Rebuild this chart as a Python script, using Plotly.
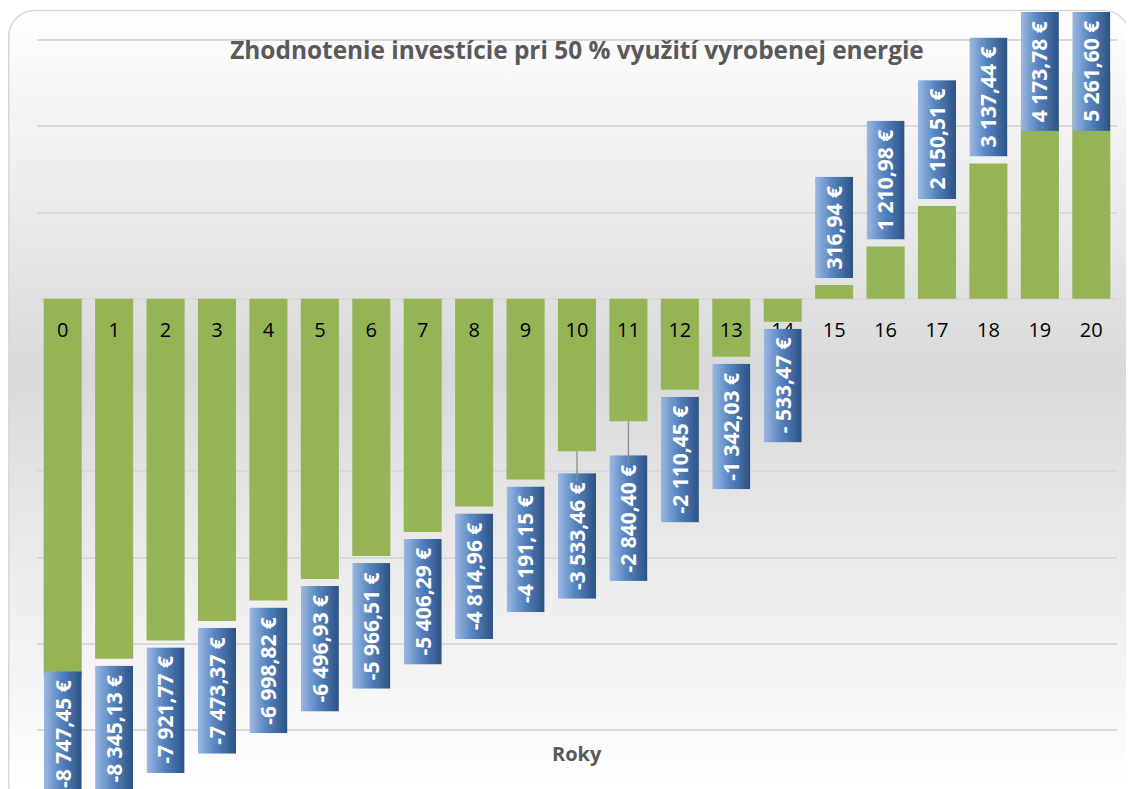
import plotly.graph_objects as go
import base64

# ---------------- data ----------------
years = list(range(21))
values = [-8747.45, -8345.13, -7921.77, -7473.37, -6998.82, -6496.93, -5966.51,
          -5406.29, -4814.96, -4191.15, -3533.46, -2840.40, -2110.45, -1342.03,
          -533.47, 316.94, 1210.98, 2150.51, 3137.44, 4173.78, 5261.60]
title_text = "Zhodnotenie investície pri 50 % využití vyrobenej energie"
x_title = "Roky"
y_min, y_max, y_step = -10000, 6000, 2000
# labels moved away from their bar (pixel gap) with a leader line
leader_gap = {10: 22, 11: 34}
# labels that Excel pushed inside the chart area (top / bottom)
pinned_top = [19, 20]
pinned_bottom = [0]


def fmt_eur(v):
    a = abs(v)
    whole = int(a)
    cents = int(round((a - whole) * 100))
    s = f"{whole:,}".replace(",", " ") + f",{cents:02d} €"
    if v < 0:
        return ("- " if a < 1000 else "-") + s
    return s


# approx. Open Sans Bold advance widths (em)
GLYPH_W = {"-": 0.322, " ": 0.26, ",": 0.28, "€": 0.572}


def text_width(s, size):
    return sum(GLYPH_W.get(c, 0.572) for c in s) * size


W, H = 1126, 781          # page has an 8px body margin
EXT = 2                   # extra px so the edge gridlines are drawn
ml, mr, mt, mb = 29, 17, 32 - EXT, 59 - EXT
pw, ph = W - ml - mr, H - mt - mb
u = (y_max - y_min) / (ph - 2 * EXT)   # data units per pixel
r0, r1 = y_min - EXT * u, y_max + EXT * u
x0, x1 = -0.5, len(years) - 0.5
BAR_W = 0.74
LABEL_SIZE = 21
LABEL_PAD = 9
GAP = 7


def px(xv):
    return (xv - x0) / (x1 - x0)


def py(yv):
    return (yv - r0) / (r1 - r0)


def svg_uri(svg):
    return "data:image/svg+xml;base64," + base64.b64encode(svg.encode("utf-8")).decode()


card_svg = f'''<svg xmlns="http://www.w3.org/2000/svg" width="{W}" height="{H + 30}" viewBox="0 0 {W} {H + 30}">
<defs><linearGradient id="g" x1="0" y1="0" x2="0" y2="1">
<stop offset="0" stop-color="#ffffff"/>
<stop offset="0.45" stop-color="#d9d9d9"/>
<stop offset="0.97" stop-color="#ffffff"/>
</linearGradient></defs>
<rect x="0.75" y="2.5" width="{W - 5}" height="{H + 20}" rx="26" ry="26" fill="url(#g)" stroke="#d9d9d9" stroke-width="1.5"/>
</svg>'''

box_svg = '''<svg xmlns="http://www.w3.org/2000/svg" width="40" height="100" viewBox="0 0 40 100" preserveAspectRatio="none">
<defs><linearGradient id="b" x1="0" y1="0" x2="1" y2="0">
<stop offset="0" stop-color="#9bb9e1"/>
<stop offset="0.45" stop-color="#5784c1"/>
<stop offset="1" stop-color="#2b5283"/>
</linearGradient></defs>
<rect x="0" y="0" width="40" height="100" fill="url(#b)"/>
</svg>'''
box_src = svg_uri(box_svg)

fig = go.Figure()
fig.add_trace(go.Bar(
    x=years, y=values,
    marker=dict(color="#94b455", line=dict(width=0)),
    width=BAR_W,
    hoverinfo="x+y",
))

annotations = []
images = [dict(
    source=svg_uri(card_svg), xref="paper", yref="paper",
    x=-ml / pw, y=1 + mt / ph, sizex=W / pw, sizey=(H + 30) / ph,
    xanchor="left", yanchor="top", sizing="stretch", layer="below",
)]

for i, v in zip(years, values):
    label = fmt_eur(v)
    L = text_width(label, LABEL_SIZE) + 2 * LABEL_PAD   # box length in px
    ann = dict(
        x=px(i), xref="paper", yref="paper",
        text=f"<b>{label}</b>", textangle=-90,
        font=dict(family="Open Sans", size=LABEL_SIZE, color="white"),
        xanchor="center", yanchor="middle", borderpad=0,
    )
    if i in pinned_top:
        yc = y_max + (28 - L / 2) * u
        ann.update(y=py(yc), showarrow=False)
    elif i in pinned_bottom:
        yc = y_min - (67 - L / 2) * u
        ann.update(y=py(yc), showarrow=False)
    elif i in leader_gap:
        g = leader_gap[i]
        yc = v - (g + L / 2) * u
        ann.update(y=py(v), showarrow=True, arrowhead=0, arrowwidth=1.3,
                   arrowcolor="#8c8c8c", ax=0, ay=g + L / 2)
    elif v < 0:
        yc = v - (GAP + L / 2) * u
        ann.update(y=py(yc), showarrow=False)
    else:
        yc = v + (GAP + L / 2) * u
        ann.update(y=py(yc), showarrow=False)
    images.append(dict(
        source=box_src, xref="paper", yref="paper", x=px(i), y=py(yc),
        sizex=BAR_W / (x1 - x0), sizey=L * u / (r1 - r0),
        xanchor="center", yanchor="middle", sizing="stretch", layer="above",
    ))
    annotations.append(ann)

annotations.append(dict(
    text=f"<b>{x_title}</b>", xref="paper", yref="paper", x=0.5, y=py(y_min),
    yanchor="top", yshift=-8, showarrow=False,
    font=dict(family="Open Sans", size=20, color="#595959"),
))

fig.update_layout(
    width=W, height=H,
    margin=dict(l=ml, r=mr, t=mt, b=mb, pad=0),
    paper_bgcolor="white", plot_bgcolor="rgba(0,0,0,0)",
    showlegend=False,
    title=dict(text=f"<b>{title_text}</b>", x=(ml + pw / 2) / W, xanchor="center",
               y=1 - 42 / H, yanchor="middle",
               font=dict(family="Open Sans", size=24.4, color="#595959")),
    xaxis=dict(
        range=[x0, x1], tickmode="array", tickvals=years,
        ticktext=[str(y) for y in years],
        anchor="free", position=py(0), side="bottom",
        showgrid=False, zeroline=False, showline=False, ticks="",
        ticklabelstandoff=17,
        tickfont=dict(family="Open Sans", size=20, color="black"),
    ),
    yaxis=dict(
        range=[r0, r1], tickmode="linear", tick0=y_min, dtick=y_step,
        showgrid=True, gridcolor="#d9d9d9", gridwidth=1.5,
        zeroline=False, showticklabels=False, showline=False,
    ),
    annotations=annotations,
    images=images,
)

fig.write_html("out.html")
